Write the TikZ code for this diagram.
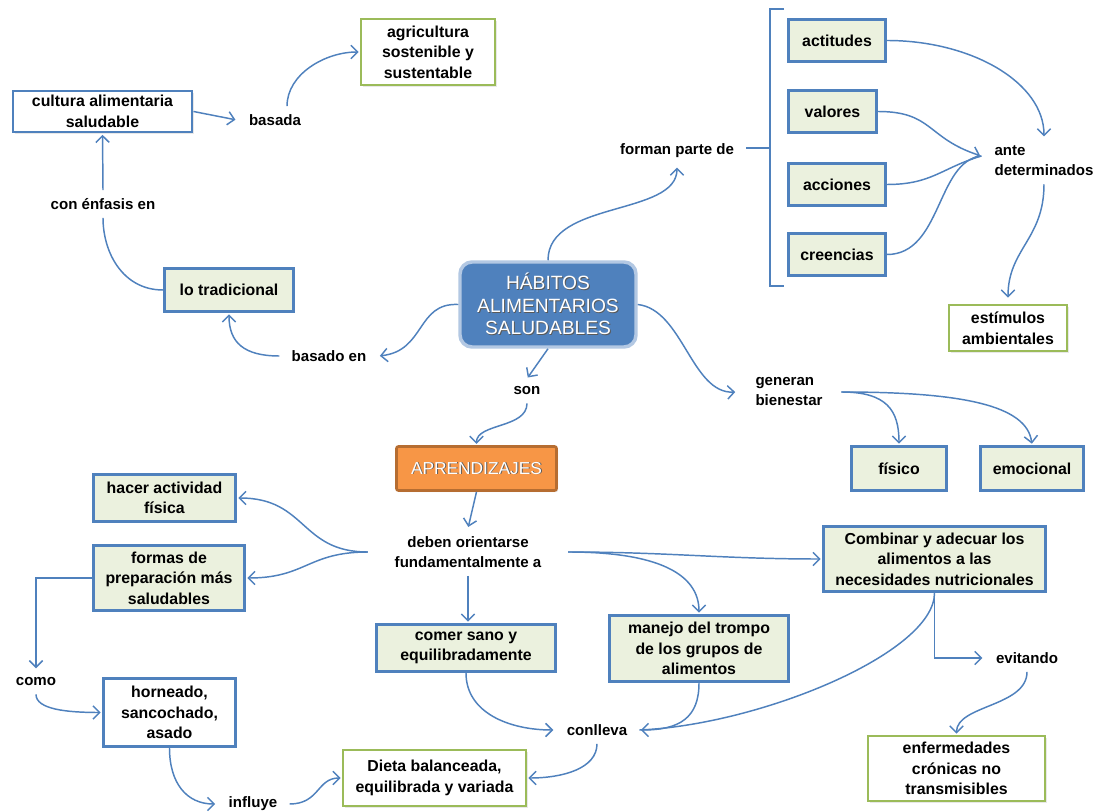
\documentclass[tikz,border=0pt]{standalone}
\usepackage{fontspec}
\setmainfont{Liberation Sans}
\usetikzlibrary{arrows.meta,shadows,calc}
\definecolor{linkblue}{HTML}{4F81BD}
\definecolor{conceptfill}{HTML}{EBF1DE}
\definecolor{greenedge}{HTML}{9BBB59}
\definecolor{orangefill}{HTML}{F79646}
\definecolor{orangeedge}{HTML}{B66D31}
\definecolor{mainedge}{HTML}{B3C8E3}
% white lettering with a small dark offset copy behind it
\newcommand\embossed[1]{\leavevmode\rlap{\kern0.7pt\raisebox{-0.7pt}{\color{black!65}#1}}#1}

\begin{document}
\begin{tikzpicture}[x=0.75pt,y=-0.75pt,
  every node/.style={font=\fontsize{11.9}{15.4}\selectfont\bfseries, align=center, inner sep=0pt},
  boxbase/.style 2 args={minimum width=#1*0.75pt, minimum height=#2*0.75pt,
      drop shadow={opacity=0.18, shadow xshift=1.2pt, shadow yshift=-1.2pt}},
  concept/.style 2 args={boxbase={#1}{#2}, draw=linkblue, line width=2.2pt, fill=conceptfill},
  plainconcept/.style 2 args={boxbase={#1}{#2}, draw=linkblue, line width=2.2pt, fill=white},
  goal/.style 2 args={boxbase={#1}{#2}, draw=greenedge, line width=1.6pt, fill=white},
  phrase/.style={font=\fontsize{11.3}{15}\selectfont\bfseries, inner xsep=9pt, inner ysep=6pt},
  mainbox/.style={minimum width=176*0.75pt, minimum height=85*0.75pt, rounded corners=9pt,
      fill=linkblue, draw=mainedge, line width=2.6pt, text=white,
      font=\fontsize{14.4}{17}\selectfont},
  learnbox/.style={minimum width=160*0.75pt, minimum height=44*0.75pt, rounded corners=1.5pt,
      fill=orangefill, draw=orangeedge, line width=2pt, text=white,
      font=\fontsize{13}{15}\selectfont,
      drop shadow={opacity=0.18, shadow xshift=1.2pt, shadow yshift=-1.2pt}},
  link/.style={draw=linkblue, line width=1.1pt, shorten >=1pt,
      -{Straight Barb[length=5pt,width=10pt]}},
  plainlink/.style={draw=linkblue, line width=1.1pt},
]
\fill[white] (0,0) rectangle (1099,812);
\useasboundingbox (0,0) rectangle (1099,812);

% ---------- concepts and linking phrases ----------
\node[plainconcept={179}{41}] (cultura) at (102.5,111.5) {cultura alimentaria\\saludable};
\node[phrase] (basada) at (275,120) {basada};
\node[goal={134}{66}] (agri) at (428,52) {agricultura\\sostenible y\\sustentable};
\node[phrase] (enfasis) at (103,204) {con énfasis en};
\node[concept={129}{43}] (tradicional) at (229,290) {lo tradicional};
\node[phrase] (basadoen) at (329,356) {basado en};
\node[mainbox] (habitos) at (548,304.5) {\embossed{HÁBITOS}\\\embossed{ALIMENTARIOS}\\\embossed{SALUDABLES}};
\node[phrase] (son) at (527,391) {son};
\node[learnbox] (aprend) at (476.5,468.5) {\embossed{APRENDIZAJES}};
\node[phrase] (forman) at (677,151) {forman parte de};

\node[concept={97}{42}] (actitudes) at (837,40.5) {actitudes};
\node[concept={88}{42}] (valores) at (832.5,111.5) {valores};
\node[concept={97}{42}] (acciones) at (837,184.5) {acciones};
\node[concept={97}{42}] (creencias) at (837,254.5) {creencias};
\node[phrase, align=left] (ante) at (1044,161) {ante\\determinados};
\node[goal={118}{46}] (estimulos) at (1008,328) {estímulos\\ambientales};

\node[phrase, align=left, inner xsep=14pt] (generan) at (789,392) {generan\\bienestar};
\node[concept={95}{44}] (fisico) at (899,468.5) {físico};
\node[concept={103}{44}] (emocional) at (1032,468.5) {emocional};

\node[concept={142}{47}] (actividad) at (164.5,498) {hacer actividad\\física};
\node[concept={151}{65}] (formas) at (169,578) {formas de\\preparación más\\saludables};
\node[phrase, inner xsep=20pt] (deben) at (468,552) {deben orientarse\\fundamentalmente a};
\node[concept={179}{47}] (comer) at (466,648) {comer sano y\\equilibradamente};
\node[concept={179}{66}] (manejo) at (699,648.5) {manejo del trompo\\de los grupos de\\alimentos};
\node[concept={222}{65}] (combinar) at (934.5,559) {Combinar y adecuar los\\alimentos a las\\necesidades nutricionales};

\node[phrase] (como) at (36,682) {como};
\node[plainconcept={132}{68}] (horneado) at (169.5,712.5) {horneado,\\sancochado,\\asado};
\node[phrase] (influye) at (253,804) {influye};
\node[phrase] (conlleva) at (597,730) {conlleva};
\node[goal={183}{56}] (dieta) at (434.5,778) {Dieta balanceada,\\equilibrada y variada};
\node[phrase] (evitando) at (1027,658) {evitando};
\node[goal={177}{65}] (enfermedades) at (956.5,768.5) {enfermedades\\crónicas no\\transmisibles};

% ---------- bracket grouping the four components ----------
\coordinate (brtop) at (784,9);
\coordinate (brbot) at (784,286);
\coordinate (brmid) at (770,148);
\draw[plainlink] (brtop) -- (770,9) -- (770,286) -- (brbot);
\draw[plainlink] (forman.east |- brmid) -- (brmid);

% ---------- connectors ----------
\draw[link] (cultura.east) -- (basada.west);
\draw[link] ($(basada.north)+(12,0)$) .. controls +(0,-32) and +(-35,0) .. (agri.west);
\draw[link] (enfasis.north) -- (cultura.south);
\draw[plainlink] (tradicional.west) .. controls +(-40,0) and +(0,35) .. (enfasis.south);
\draw[link] (habitos.west) .. controls +(-42,-2) and +(47,-5) .. (basadoen.east);
\draw[link] (basadoen.west) .. controls +(-35,0) and +(0,30) .. (tradicional.south);
\draw[link] (habitos.south) -- (son.north);
\draw[link] (son.south) .. controls +(0,25) and +(0,-22) .. (aprend.north);
\draw[link] (habitos.north) .. controls +(0,-60) and +(0,50) .. (forman.south);

\coordinate (antein) at ($(ante.west)+(-1,-5)$);
\draw[link] (actitudes.east) .. controls +(85,0) and +(0,-55) .. (ante.north);
\draw[link] (valores.east) .. controls +(55,0) and +(-55,-18) .. (antein);
\draw[plainlink] (acciones.east) .. controls +(45,0) and +(-40,12) .. (antein);
\draw[plainlink] (creencias.east) .. controls +(55,0) and +(-45,5) .. (antein);
\draw[link] (ante.south) .. controls +(0,55) and +(0,-50) .. ($(estimulos.north)+(0,-5)$);

\draw[link] (habitos.east) .. controls +(45,5) and +(-45,2) .. (generan.west);
\draw[link] (generan.east) .. controls +(45,0) and +(0,-35) .. (fisico.north);
\draw[link] (generan.east) .. controls +(120,0) and +(-5,-40) .. (emocional.north);

\draw[link] (aprend.south) -- (deben.north);
\draw[link] (deben.west) .. controls +(-68,0) and +(70,0) .. (actividad.east);
\draw[link] (deben.west) .. controls +(-60,0) and +(60,0) .. (formas.east);
\draw[link] (deben.south) -- (deben.south |- comer.north);
\draw[link] (deben.east) .. controls +(90,0) and +(0,-40) .. (manejo.north);
\draw[link] (deben.east) .. controls +(100,0) and +(-100,0) .. (combinar.west);

\draw[link] (formas.west) -| (como.north);
\draw[link] (como.south) .. controls +(0,15) and +(-35,0) .. (horneado.west);
\draw[link] (horneado.south) .. controls +(0,35) and +(-30,0) .. (influye.west);
\draw[link] (influye.east) .. controls +(30,0) and +(-25,0) .. (dieta.west);

\draw[link] (comer.south) .. controls +(0,40) and +(-45,0) .. (conlleva.west);
\draw[link] (manejo.south) .. controls +(0,35) and +(40,0) .. (conlleva.east);
\draw[plainlink] (combinar.south) .. controls +(0,60) and +(120,-5) .. (conlleva.east);
\draw[link] (conlleva.south) .. controls +(0,25) and +(35,0) .. (dieta.east);

\draw[link] (combinar.south) |- (evitando.west);
\draw[link] (evitando.south) .. controls +(0,35) and +(0,-30) .. (enfermedades.north);
\end{tikzpicture}
\end{document}
